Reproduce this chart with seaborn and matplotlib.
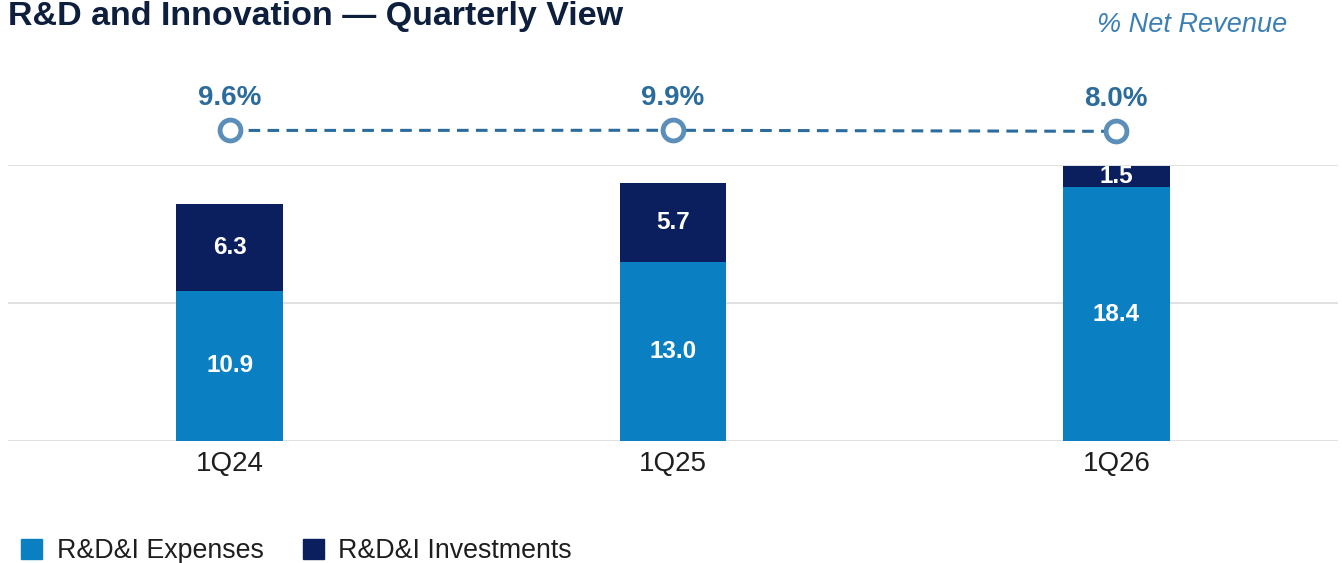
import matplotlib
matplotlib.use("Agg")
from matplotlib import pyplot as plt
from matplotlib.patches import Patch
import pandas as pd
import seaborn as sns

# values
quarters = ["1Q24", "1Q25", "1Q26"]
expenses = [10.9, 13.0, 18.4]
investments = [6.3, 5.7, 1.5]
pct_net_revenue = [9.6, 9.9, 8.0]

EXP_COLOR = "#0a80c3"
INV_COLOR = "#0b1f5e"
LINE_COLOR = "#2b6c9c"
MARKER_EDGE = "#5b8fba"

sns.set_theme(style="white")
plt.rcParams["font.family"] = ["Liberation Sans", "DejaVu Sans"]

df = pd.DataFrame({"quarter": quarters, "expenses": expenses,
                   "investments": investments, "pct": pct_net_revenue})
df["total"] = df["expenses"] + df["investments"]

W, H = 1342, 563
fig = plt.figure(figsize=(W / 100, H / 100), dpi=100)

# bar axes: baseline at y=441px, 20 at y=165px
ax = fig.add_axes([8 / W, (H - 441) / H, 1330 / W, (441 - 165) / H])
sns.barplot(data=df, x="quarter", y="total", color=INV_COLOR, width=0.24,
            saturation=1, linewidth=0, ax=ax, zorder=2)
sns.barplot(data=df, x="quarter", y="expenses", color=EXP_COLOR, width=0.24,
            saturation=1, linewidth=0, ax=ax, zorder=3)
ax.set_ylim(0, 20)
ax.set_xlim(-0.5, 2.5)
ax.set_yticks([0, 10, 20])
ax.set_yticklabels([])
ax.yaxis.grid(True, color="#dcdcdc", lw=1.2, zorder=0)
ax.set_axisbelow(True)
for s in ax.spines.values():
    s.set_visible(False)
ax.set_xlabel("")
ax.set_ylabel("")
ax.tick_params(axis="x", length=0, pad=7, labelsize=20, labelcolor="#1e1e1e")
ax.tick_params(axis="y", length=0)

for i, row in df.iterrows():
    ax.text(i, row["expenses"] / 2, f"{row['expenses']:.1f}", ha="center",
            va="center", color="white", fontsize=17.5, fontweight="bold", zorder=5)
    ax.text(i, row["expenses"] + row["investments"] / 2, f"{row['investments']:.1f}",
            ha="center", va="center", color="white", fontsize=17.5,
            fontweight="bold", zorder=5)

# line axes for % net revenue, on a strip above the bars
lax = fig.add_axes([8 / W, (H - 158) / H, 1330 / W, 50 / H])
lax.set_xlim(-0.5, 2.5)
lax.set_ylim(-40, 50)
lax.axis("off")
sns.lineplot(x=range(len(quarters)), y=pct_net_revenue, ax=lax, color=LINE_COLOR,
             lw=2.2, linestyle=(0, (3.8, 2.4)), marker="o", markersize=15,
             markerfacecolor="white", markeredgecolor=MARKER_EDGE,
             markeredgewidth=3.5)
for i, v in enumerate(pct_net_revenue):
    lax.annotate(f"{v:.1f}%", (i, v), xytext=(0, 23.5), textcoords="offset points",
                 ha="center", va="center", color=LINE_COLOR, fontsize=20,
                 fontweight="bold", annotation_clip=False)

fig.text(8 / W, 1 - 16 / H, "R&D and Innovation — Quarterly View", ha="left",
         va="center", fontsize=24.5, fontweight="bold", color="#0d1f3c")
fig.text(1192 / W, 1 - 25 / H, "% Net Revenue", ha="center", va="center",
         fontsize=19.5, style="italic", color="#3b7fb5")

handles = [Patch(color=EXP_COLOR, label="R&D&I Expenses"),
           Patch(color=INV_COLOR, label="R&D&I Investments")]
fig.legend(handles=handles, loc="lower left", bbox_to_anchor=(-0.002, -0.045),
           ncol=2, frameon=False, fontsize=19.3, handlelength=0.78,
           handleheight=0.8, columnspacing=1.45, handletextpad=0.55,
           labelcolor="#1e1e1e")

fig.savefig("out.png", dpi=100)
